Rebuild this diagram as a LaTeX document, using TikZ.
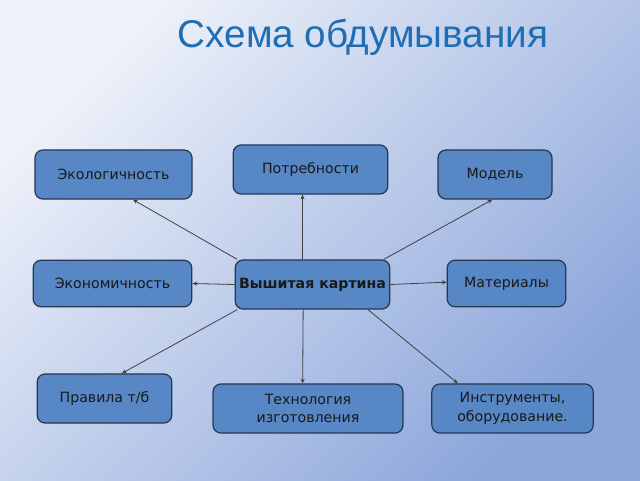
\documentclass[tikz,border=0pt]{standalone}
\usepackage{fontspec}
\setmainfont{DejaVu Sans}
\newfontfamily\titlefont{Liberation Sans}
\usepackage{xcolor}
\usetikzlibrary{arrows.meta}

\definecolor{bgtop}{HTML}{EDF1F9}
\definecolor{bgmid}{HTML}{C6D2EC}
\definecolor{bgbottom}{HTML}{8CA6DB}
\definecolor{boxfill}{HTML}{5787C4}
\definecolor{boxline}{HTML}{263754}
\definecolor{titleblue}{HTML}{1F6DB3}

\begin{document}
\begin{tikzpicture}[x=0.75pt, y=-0.75pt,
    every node/.style = {shape=rectangle, rounded corners=6pt,
      draw=boxline, line width=0.9pt, fill=boxfill, align=center,
      text=black!90, font=\fontsize{10.6}{14}\selectfont,
      minimum height=36.8pt, inner sep=2pt},
    link/.style = {draw=black!75, line width=0.6pt,
      -{Stealth[length=3.5pt, width=3pt]}}]
    % background
    \fill[top color=bgtop, middle color=bgmid, bottom color=bgbottom, shading angle=45]
      (0,0) rectangle (640,480);
    \useasboundingbox (0,0) rectangle (640,480);
    \node[draw=none, fill=none, rounded corners=0pt, text=titleblue,
      font=\titlefont\fontsize{29}{33}\selectfont] (title) at (363,37)
      {Схема обдумывания};
    % centre
    \node[minimum width=116pt, font=\bfseries\fontsize{10.6}{14}\selectfont]
      (vk) at (312.5,284.5) {Вышитая картина};
    % top row
    \node[minimum width=117.8pt] (eko) at (113.5,174.5) {Экологичность};
    \node[minimum width=116pt] (potr) at (310.5,169.5) {Потребности};
    \node[minimum width=85.5pt] (model) at (495,174.5) {Модель};
    % middle row
    \node[minimum width=119pt, minimum height=35pt] (econ) at (112.5,283.5) {Экономичность};
    \node[minimum width=89pt, minimum height=35pt] (mat) at (506.5,283.5) {Материалы};
    % bottom row
    \node[minimum width=101pt] (prav) at (104.5,398.5) {Правила т/б};
    \node[minimum width=142.5pt] (tech) at (308,408.5) {Технология\\изготовления};
    \node[minimum width=121pt] (instr) at (512.5,408.5) {Инструменты,\\оборудование.};
    % links
    \draw[link] ([xshift=2pt]vk.north west) -- ([xshift=14.6pt]eko.south);
    \draw[link] ([xshift=-7.5pt]vk.north) -- ([xshift=-6pt]potr.south);
    \draw[link] ([xshift=-5pt]vk.north east) -- ([xshift=-2pt]model.south);
    \draw[link] (vk.west) -- (econ.east);
    \draw[link] (vk.east) -- ([yshift=1pt]mat.west);
    \draw[link] ([xshift=2pt]vk.south west) -- ([xshift=13pt]prav.north);
    \draw[link] ([xshift=-7pt]vk.south) -- ([xshift=-4pt]tech.north);
    \draw[link] ([xshift=41.6pt]vk.south) -- ([xshift=-41pt]instr.north);
\end{tikzpicture}
\end{document}
